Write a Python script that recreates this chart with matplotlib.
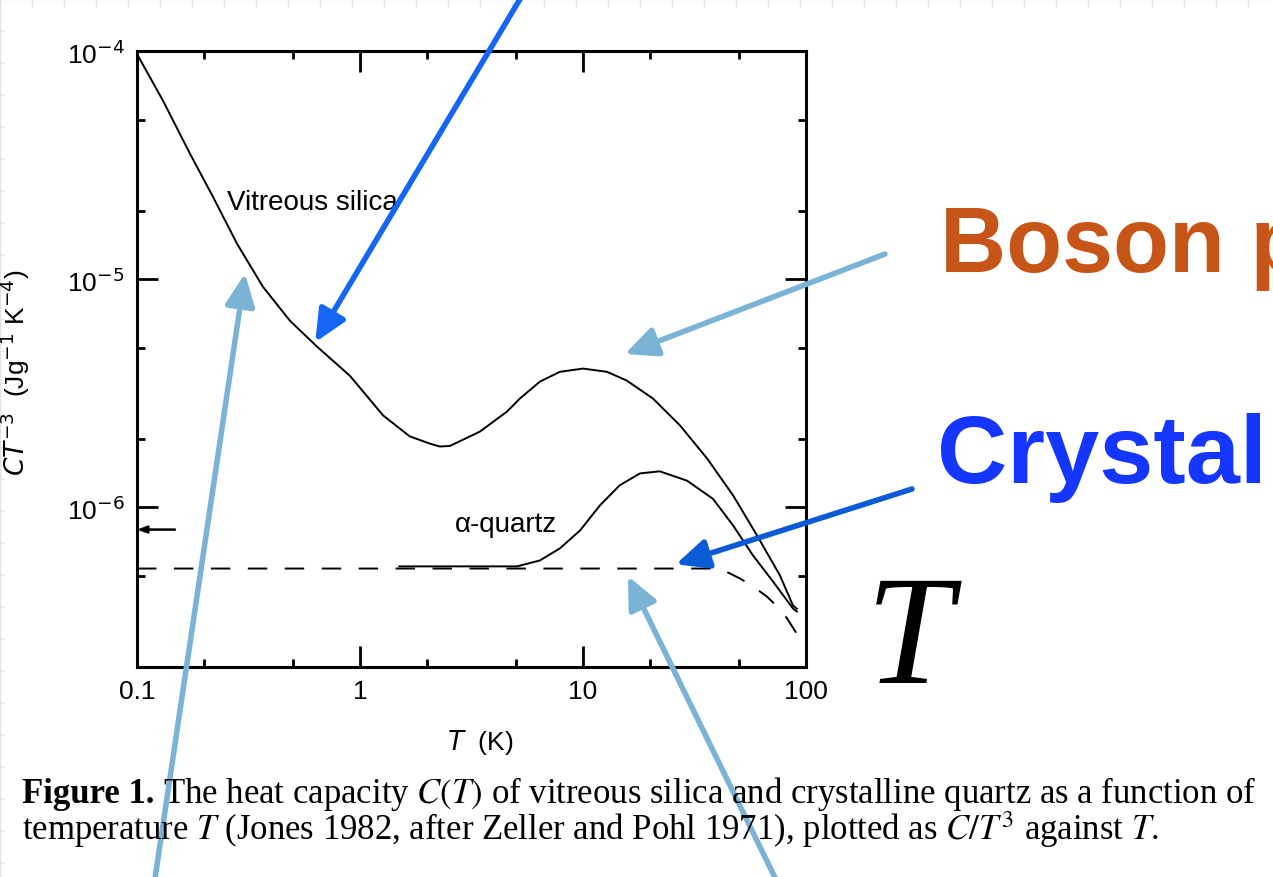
import matplotlib.pyplot as plt
from matplotlib.patches import Rectangle
from matplotlib.ticker import FixedLocator, FixedFormatter, NullFormatter

plt.rcParams['font.family'] = ['Liberation Sans', 'DejaVu Sans']

# C/T^3 (J g^-1 K^-4) against T (K)
silica_T = [0.100, 0.131, 0.173, 0.219, 0.281, 0.367, 0.485, 0.641, 0.900, 1.27,
            1.67, 2.07, 2.28, 2.53, 3.45, 4.56, 5.21, 6.41, 7.88, 10.0, 12.8,
            15.7, 20.6, 27.2, 36.0, 47.1, 60.3, 76.4, 87.4, 91.0]
silica_C = [9.7e-5, 6.04e-5, 3.54e-5, 2.30e-5, 1.43e-5, 9.27e-6, 6.58e-6, 5.07e-6,
            3.78e-6, 2.53e-6, 2.05e-6, 1.9e-6, 1.85e-6, 1.86e-6, 2.15e-6, 2.63e-6,
            3.00e-6, 3.56e-6, 3.93e-6, 4.06e-6, 3.93e-6, 3.60e-6, 3.00e-6,
            2.29e-6, 1.64e-6, 1.13e-6, 7.54e-7, 5.04e-7, 3.72e-7, 3.6e-7]

quartz_T = [1.5, 2.28, 5.06, 6.41, 7.88, 9.7, 11.9, 14.6, 18.0, 22.1, 29.3,
            38.3, 47.1, 57.8, 71.1, 87.4, 91.0]
quartz_C = [5.52e-7, 5.52e-7, 5.52e-7, 5.86e-7, 6.62e-7, 7.93e-7, 1.02e-6,
            1.25e-6, 1.41e-6, 1.44e-6, 1.31e-6, 1.09e-6, 8.34e-7, 6.17e-7,
            4.74e-7, 3.61e-7, 3.5e-7]

debye_T = [0.1, 41.1, 50.5, 57.8, 66.8, 74.1, 82.2, 91.9]
debye_C = [5.4e-7, 5.4e-7, 4.89e-7, 4.51e-7, 4.07e-7, 3.69e-7, 3.27e-7, 2.75e-7]

marker_C = 8.0e-7

x_ticks = [0.1, 1, 10, 100]
x_tick_labels = ['0.1', '1', '10', '100']
y_ticks = [1e-6, 1e-5, 1e-4]
y_tick_labels = [r'10$^{-6}$', r'10$^{-5}$', r'10$^{-4}$']

fig = plt.figure(figsize=(12.73, 8.78), dpi=100)

# slide background with faint grid and white sheet
bg = fig.add_axes([0, 0, 1, 1], zorder=-10)
bg.set_xlim(0, 1273)
bg.set_ylim(878, 0)
bg.set_facecolor('#e9eef1')
for g in range(0, 1300, 32):
    bg.axvline(g, color='#dde4e9', lw=1)
    bg.axhline(g, color='#dde4e9', lw=1)
bg.add_patch(Rectangle((5, 9), 1300, 900, color='white', zorder=2))
bg.axis('off')

ax = fig.add_axes([137 / 1273, 210 / 878, 669 / 1273, 616 / 878])
ax.set_xscale('log')
ax.set_yscale('log')
ax.set_xlim(0.1, 100)
ax.set_ylim(2.0e-7, 1e-4)
ax.set_facecolor('none')

ax.plot(silica_T, silica_C, color='black', lw=1.4)
ax.plot(quartz_T, quartz_C, color='black', lw=1.4)
ax.plot(debye_T, debye_C, color='black', lw=1.4, linestyle=(0, (10, 9)))

ax.annotate('', xy=(0.1, marker_C), xytext=(0.148, marker_C),
            arrowprops=dict(arrowstyle='-|>,head_length=0.4,head_width=0.15',
                            color='black', lw=1.8, shrinkA=0, shrinkB=0,
                            mutation_scale=14))

ax.text(0.253, 2.04e-5, 'Vitreous silica', fontsize=20, va='baseline')
ax.text(2.67, 7.85e-7, 'α-quartz', fontsize=20, va='baseline')

for s in ax.spines.values():
    s.set_linewidth(2.2)
ax.xaxis.set_major_locator(FixedLocator(x_ticks))
ax.xaxis.set_major_formatter(FixedFormatter(x_tick_labels))
ax.xaxis.set_minor_locator(FixedLocator([0.2, 0.5, 2, 5, 20, 50]))
ax.xaxis.set_minor_formatter(NullFormatter())
ax.yaxis.set_major_locator(FixedLocator(y_ticks))
ax.yaxis.set_major_formatter(FixedFormatter(y_tick_labels))
ax.yaxis.set_minor_locator(FixedLocator([5e-7, 2e-6, 5e-6, 2e-5, 5e-5]))
ax.yaxis.set_minor_formatter(NullFormatter())
ax.tick_params(which='both', direction='in', top=True, right=True,
               width=2, labelsize=19, pad=9)
ax.tick_params(which='major', length=15)
ax.tick_params(which='minor', length=6)

ax.set_xlabel(r'$T$  (K)', fontsize=19)
ax.xaxis.set_label_coords(0.513, -0.097)
ax.set_ylabel(r'$CT^{-3}$  (Jg$^{-1}$ K$^{-4}$)', fontsize=19)
ax.yaxis.set_label_coords(-0.157, 0.479)

# caption
cap = dict(family='Liberation Serif', math_fontfamily='stix', fontsize=25,
           va='baseline')
fig.text(22 / 1273, 75 / 878, 'Figure 1.', weight='bold', **cap)
fig.text(163 / 1273, 75 / 878,
         r'The heat capacity $C(T)$ of vitreous silica and crystalline quartz as a function of',
         **cap)
fig.text(22 / 1273, 38 / 878,
         r'temperature $T$ (Jones 1982, after Zeller and Pohl 1971), plotted as $C/T^3$ against $T$.',
         **cap)

# slide notes
fig.text(940 / 1273, 606 / 878, 'Boson peak', color='#c85518', fontsize=66,
         weight='bold', va='baseline')
fig.text(937 / 1273, 395 / 878, 'Crystal', color='#1436ff', fontsize=70,
         weight='bold', va='baseline')
fig.text(866 / 1273, 195 / 878, 'T', family='Liberation Serif', style='italic',
         fontsize=112, va='baseline')

dark_blue = '#1466f5'
light_blue = '#7bb3d6'
arrows = [
    ((0.63, 5.3e-6), (529, 893), dark_blue),
    ((15.4, 4.7e-6), (885, 623), light_blue),
    ((0.305, 1.06e-5), (153, -15), light_blue),
    ((15.9, 5.0e-7), (782, -15), light_blue),
    ((26.1, 5.64e-7), (912, 388), '#0b5ad6'),
]
for tip, tail, col in arrows:
    ax.annotate('', xy=tip, xytext=tail, textcoords='figure pixels',
                annotation_clip=False, zorder=10,
                arrowprops=dict(arrowstyle='-|>,head_length=0.65,head_width=0.3',
                                mutation_scale=30, lw=4, color=col,
                                shrinkA=0, shrinkB=0))

fig.savefig('out.png', dpi=100)
